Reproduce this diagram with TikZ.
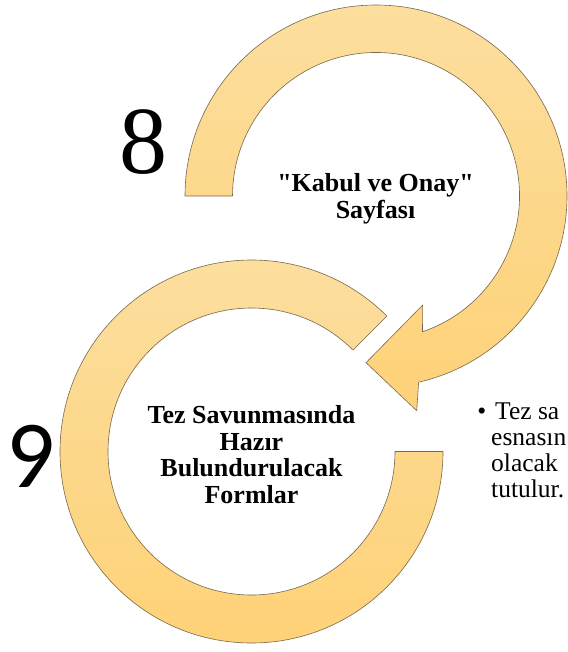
\documentclass[tikz,border=0pt]{standalone}
\usepackage{fontspec}
\setmainfont{Liberation Serif}[Ligatures=TeXOff]
\newfontfamily\numfont{Carlito}
\usetikzlibrary{calc}
\definecolor{ringTop}{RGB}{252,222,158}
\definecolor{ringBot}{RGB}{254,210,120}
\definecolor{ringLine}{RGB}{120,104,78}
\begin{document}
\begin{tikzpicture}[x=1bp,y=-1bp,
  ringshape/.style={top color=ringTop,bottom color=ringBot,draw=ringLine,line width=0.6bp,line join=round},
  boldlabel/.style={font=\fontsize{26bp}{26.5bp}\selectfont\bfseries,align=center,inner sep=0pt},
  bignum/.style={inner sep=0pt,anchor=base},
  bullettext/.style={font=\fontsize{25.5bp}{25.7bp}\selectfont,align=left,anchor=north west,inner sep=0pt}]
\useasboundingbox (0,0) rectangle (568,652);
% top ring with arrow head
\coordinate (c1) at (376,196);
\coordinate (b2) at (416.7,410.7);
\coordinate (tip) at (366,362.7);
\coordinate (b1) at (422.7,305);
\path[ringshape] ($(c1)+(180:191)$) arc[start angle=180,end angle=437.1,radius=191]
  -- (b2) -- (tip) -- (b1) -- ($(c1)+(431.1:143.5)$)
  arc[start angle=431.1,end angle=180,radius=143.5] -- cycle;
% bottom ring
\coordinate (c2) at (251.5,451.5);
\path[ringshape] ($(c2)+(0:191.5)$) arc[start angle=0,end angle=315,radius=191.5]
  -- ($(c2)+(315:143.5)$) arc[start angle=315,end angle=0,radius=143.5] -- cycle;
% texts
\node[boldlabel] (kabul) at (375.5,199) {"Kabul ve Onay"\\Sayfası};
\node[boldlabel] (tez) at (251.5,454.5) {Tez Savunmasında\\Hazır\\Bulundurulacak\\Formlar};
\node[bignum,font=\fontsize{96bp}{96bp}\selectfont] (n8) at (143,173) {8};
\node[bignum,font=\numfont\fontsize{96bp}{96bp}\selectfont] (n9) at (31,487) {9};
\node[bullettext] (note) at (491,403) {\llap{•\hspace{5bp}}\hspace{4bp}Tez sa\\esnasın\\olacak\\tutulur.};
\end{tikzpicture}
\end{document}
